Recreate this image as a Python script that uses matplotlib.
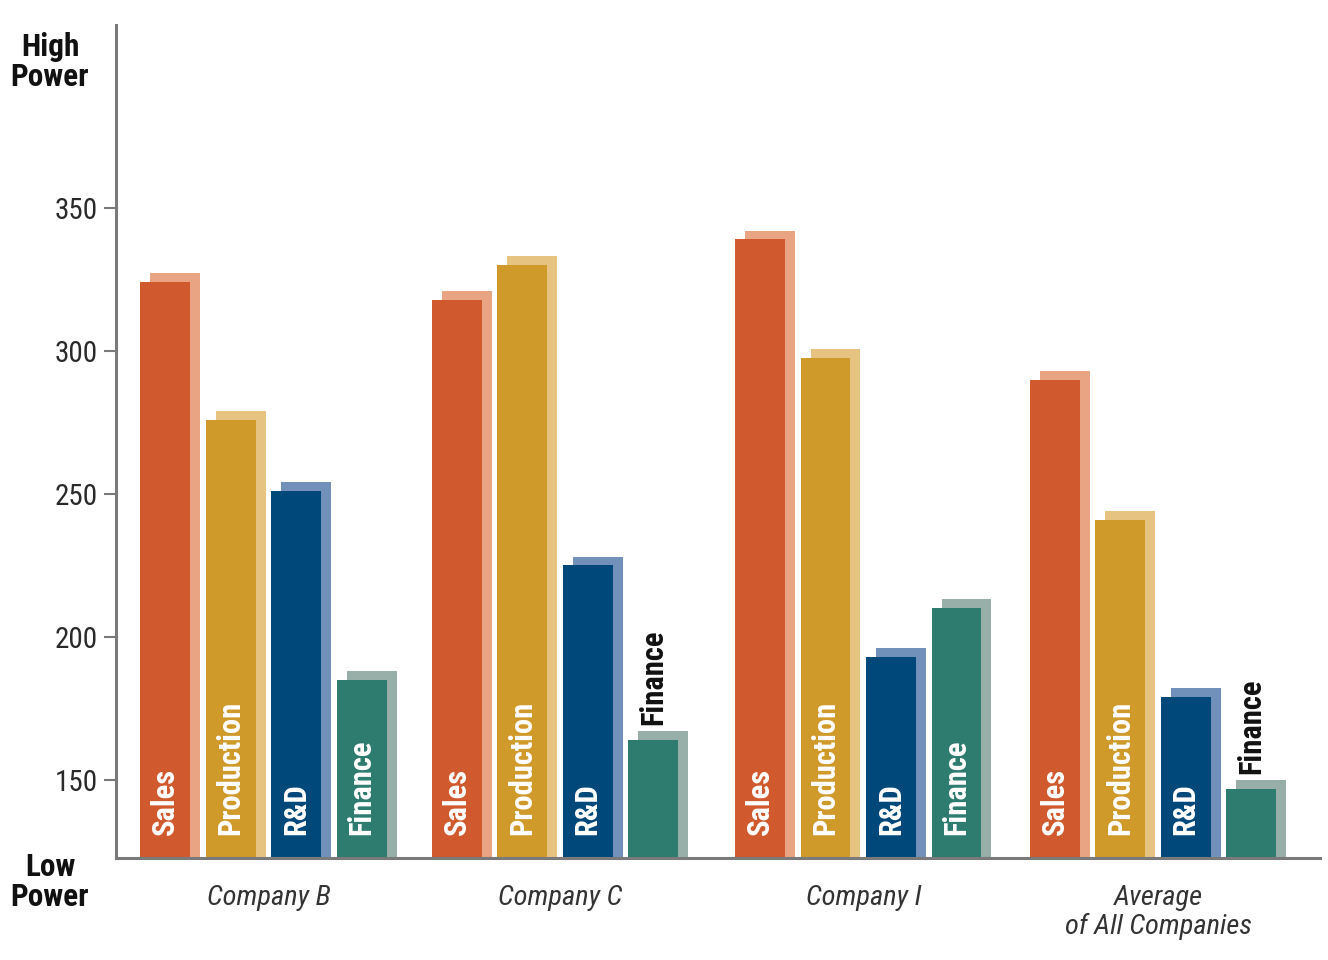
import matplotlib
matplotlib.use("Agg")
import matplotlib.pyplot as plt
import numpy as np

companies = ["Company B", "Company C", "Company I", "Average\nof All Companies"]
departments = ["Sales", "Production", "R&D", "Finance"]
sales = [324, 318, 339, 290]
production = [276, 330, 297.5, 241]
rnd = [251, 225, 193, 179]
finance = [185, 164, 210, 147]
yticks = [150, 200, 250, 300, 350]

front_colors = ["#D05A2E", "#D09A2A", "#00477A", "#2E7B70"]
shadow_colors = ["#E9A483", "#E6C381", "#7191BA", "#97AFA8"]

FAM = ["Roboto Condensed", "Liberation Sans Narrow", "Liberation Sans", "DejaVu Sans"]
plt.rcParams["font.family"] = FAM

fig = plt.figure(figsize=(13.28, 9.6), dpi=100)
ax = fig.add_axes([116/1328, 1-858/960, (1320-116)/1328, (858-25)/960])

ybase = 122.7
ytop = 414
ax.set_ylim(ybase, ytop)

slot = 1.0
width = 0.76
group_starts = [0.0, 4.45, 9.08, 13.58]
x_left0 = 0.37
ax.set_xlim(0, 18.38)

dx = 0.155
dy = 3.1

series = [sales, production, rnd, finance]
outside_finance = {1, 3}

for gi, g0 in enumerate(group_starts):
    for di, vals in enumerate(series):
        v = vals[gi]
        x = x_left0 + g0 + di * slot
        ax.bar(x + dx, v + dy - ybase, width=width, bottom=ybase, align="edge",
               color=shadow_colors[di], zorder=1, linewidth=0)
        ax.bar(x, v - ybase, width=width, bottom=ybase, align="edge",
               color=front_colors[di], zorder=2, linewidth=0)
        cx = x + width / 2
        if di == 3 and gi in outside_finance:
            ax.text(cx, v + dy + 2.0, departments[di], rotation=90, ha="center", va="bottom",
                    color="#111111", fontsize=22, fontweight="bold", zorder=3)
        else:
            ax.text(cx, 130.8, departments[di], rotation=90, ha="center", va="bottom",
                    color="white", fontsize=22, fontweight="bold", zorder=3)
    gc = x_left0 + g0 + (3 * slot + width) / 2 + 0.08
    ax.text(gc, 113.3, companies[gi], ha="center", va="top", fontsize=20.5,
            style="italic", color="#333333", linespacing=1.1)

for s in ["top", "right"]:
    ax.spines[s].set_visible(False)
for s in ["left", "bottom"]:
    ax.spines[s].set_color("#7a7a7a")
    ax.spines[s].set_linewidth(2.2)

ax.set_xticks([])
ax.set_yticks(yticks)
ax.set_yticklabels([str(t) for t in yticks])
ax.tick_params(axis="y", length=9, width=1.5, color="#7a7a7a", labelsize=21,
               labelcolor="#2a2a2a", pad=4)

fig.text(50/1328, 1-62/960, "High\nPower", ha="center", va="center", fontsize=22.5,
         fontweight="bold", color="#111111", linespacing=0.98)
fig.text(50/1328, 1-882/960, "Low\nPower", ha="center", va="center", fontsize=22.5,
         fontweight="bold", color="#111111", linespacing=0.98)

fig.savefig("out.png", dpi=100)
